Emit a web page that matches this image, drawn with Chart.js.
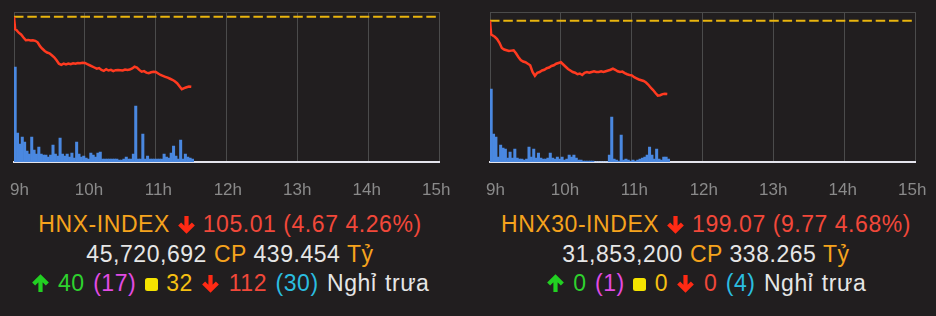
<!DOCTYPE html>
<html><head><meta charset="utf-8">
<script src="https://cdn.jsdelivr.net/npm/chart.js@4.4.1/dist/chart.umd.min.js"></script>
<style>
html,body{margin:0;padding:0;background:#211e1f;}
body{width:936px;height:316px;overflow:hidden;position:relative;font-family:"Liberation Sans",Arial,sans-serif;}
.panel{position:absolute;top:0;width:460px;height:316px;}
.cv{position:absolute;left:0;top:0;}
.ln{position:absolute;left:0;width:460px;text-align:center;white-space:nowrap;font-size:23px;letter-spacing:0.55px;line-height:30px;height:30px;color:#e6e6e6;}
.l3{word-spacing:1.5px;}
.o{color:#f6a31d}.r{color:#f2483a}.g{color:#2ed22e}.m{color:#e34be3}.y{color:#f6c012}.c{color:#2bbde0}
svg{display:inline-block;vertical-align:-2px}
</style></head>
<body>
<div class="panel" style="left:0">
  <canvas id="c1" class="cv" width="460" height="200"></canvas>
  <div class="ln" style="top:209px"><span class="o">HNX-INDEX</span> <svg width="19" height="19" viewBox="0 0 18 18"><path d="M9 1V15M2.5 8.5L9 15L15.5 8.5" fill="none" stroke="#ff2a14" stroke-width="4"/></svg> <span class="r">105.01 (4.67 4.26%)</span></div>
  <div class="ln" style="top:239px">45,720,692 <span class="o">CP</span> 439.454 <span class="o">Tỷ</span></div>
  <div class="ln l3" style="top:268px"><svg width="19" height="19" viewBox="0 0 18 18"><path d="M9 17V3M2.5 9.5L9 3L15.5 9.5" fill="none" stroke="#22d022" stroke-width="4"/></svg> <span class="g">40</span> <span class="m">(17)</span> <svg width="13" height="13" viewBox="0 0 13 13" style="vertical-align:0"><rect x="0" y="0" width="13" height="13" rx="2.5" fill="#f5e300"/></svg> <span class="y">32</span> <svg width="19" height="19" viewBox="0 0 18 18"><path d="M9 1V15M2.5 8.5L9 15L15.5 8.5" fill="none" stroke="#ff2a14" stroke-width="4"/></svg> <span class="r">112</span> <span class="c">(30)</span> Nghỉ trưa</div>
</div>
<div class="panel" style="left:476px">
  <canvas id="c2" class="cv" width="460" height="200"></canvas>
  <div class="ln" style="top:209px"><span class="o">HNX30-INDEX</span> <svg width="19" height="19" viewBox="0 0 18 18"><path d="M9 1V15M2.5 8.5L9 15L15.5 8.5" fill="none" stroke="#ff2a14" stroke-width="4"/></svg> <span class="r">199.07 (9.77 4.68%)</span></div>
  <div class="ln" style="top:239px">31,853,200 <span class="o">CP</span> 338.265 <span class="o">Tỷ</span></div>
  <div class="ln l3" style="top:268px"><svg width="19" height="19" viewBox="0 0 18 18"><path d="M9 17V3M2.5 9.5L9 3L15.5 9.5" fill="none" stroke="#22d022" stroke-width="4"/></svg> <span class="g">0</span> <span class="m">(1)</span> <svg width="13" height="13" viewBox="0 0 13 13" style="vertical-align:0"><rect x="0" y="0" width="13" height="13" rx="2.5" fill="#f5e300"/></svg> <span class="y">0</span> <svg width="19" height="19" viewBox="0 0 18 18"><path d="M9 1V15M2.5 8.5L9 15L15.5 8.5" fill="none" stroke="#ff2a14" stroke-width="4"/></svg> <span class="r">0</span> <span class="c">(4)</span> Nghỉ trưa</div>
</div>
<script>
// Hour ticks (minutes after 9:00) and their labels
const hourTicks = [0, 60, 120, 180, 240, 300, 360];
const hourLabels = ["9h", "10h", "11h", "12h", "13h", "14h", "15h"];

// Index line sample times (minutes after 9:00)
const lineMinutes = [0,1,2,4,6,8,10,12,14,16,18,20,22,24,26,28,30,32,34,36,38,40,42,44,46,48,50,52,54,56,58,60,62,64,66,68,70,72,74,76,78,80,82,84,86,88,90,92,94,96,98,100,102,104,106,108,110,112,114,116,118,120,122,124,126,128,130,132,134,136,138,140,142,144,146,148,150];

// HNX-INDEX values
const hnxValues = [109.68,108.85,108.80,108.62,108.50,108.30,108.12,108.14,108.10,108.12,108.08,107.98,107.72,107.55,107.40,107.30,107.25,107.12,106.98,106.78,106.55,106.48,106.56,106.50,106.56,106.52,106.58,106.55,106.60,106.58,106.62,106.60,106.52,106.45,106.38,106.30,106.22,106.26,106.14,106.08,106.18,106.10,106.14,106.06,106.12,106.14,106.12,106.10,106.16,106.14,106.16,106.24,106.35,106.30,106.14,106.02,106.06,105.96,105.92,105.98,106.02,106.00,105.90,105.80,105.74,105.68,105.62,105.55,105.48,105.38,105.25,105.05,104.85,104.92,104.98,105.03,105.01];
const hnxReference = 109.68;

// HNX30-INDEX values
const hnx30Values = [208.84,207.0,206.9,206.7,206.4,205.9,205.2,205.0,204.9,204.8,204.85,204.9,204.5,204.0,203.6,203.4,203.3,203.1,202.9,202.0,201.5,201.9,202.0,202.2,202.3,202.5,202.6,202.8,202.9,203.1,203.2,203.3,203.0,202.7,202.4,202.2,202.0,201.9,201.7,201.8,201.6,201.9,202.0,201.9,202.0,202.1,202.0,202.0,202.1,202.0,202.1,202.2,202.3,202.45,202.3,202.1,202.0,202.05,201.85,201.7,201.6,201.55,201.3,201.15,201.0,200.9,200.8,200.6,200.3,199.9,199.6,199.2,198.85,198.9,199.05,199.1,199.07];
const hnx30Reference = 208.84;

// Volume bar times (2-minute slots, midpoints in minutes after 9:00)
const barMinutes = [1,3,5,7,9,11,13,15,17,19,21,23,25,27,29,31,33,35,37,39,41,43,45,47,49,51,53,55,57,59,61,63,65,67,69,71,73,75,77,79,81,83,85,87,89,91,93,95,97,99,101,103,105,107,109,111,113,115,117,119,121,123,125,127,129,131,133,135,137,139,141,143,145,147,149,151];

// Volume per slot (relative units)
const hnxVolume = [95,29,18,25,20,11,8,25,12,8,15,8,7,7,5,7,17,8,6,24,8,6,8,5,9,4,20,8,5,6,4,3,9,7,5,9,10,3,3,3,3,3,3,3,2,2,3,5,3,3,8,56,3,3,28,3,6,3,3,3,3,3,3,8,5,4,9,16,6,3,22,3,8,5,4,3];
const hnx30Volume = [73,28,25,5,17,14,13,4,10,4,13,4,3,3,2,3,15,5,13,4,9,4,3,3,4,9,4,3,5,3,5,2,3,7,5,7,4,2,2,1,1,1,1,1,0,0,0,0,0,0,7,45,3,2,1,27,2,3,2,1,2,1,2,3,4,5,7,15,7,3,13,3,2,5,5,3];

function makeChart(id, values, reference, volume, yMin, yMax) {
  const labelMin = -4.75, labelMax = 362.85;
  new Chart(document.getElementById(id), {
    type: 'line',
    data: {
      datasets: [
        { type: 'line', data: lineMinutes.map((m, i) => ({ x: m, y: values[i] })),
          borderColor: '#ff3a20', borderWidth: 2.5, pointRadius: 0, tension: 0,
          xAxisID: 'x', yAxisID: 'y', order: 0 },
        { type: 'line', data: [{ x: 0, y: reference }, { x: 360, y: reference }],
          borderColor: '#e9b50e', borderWidth: 2, borderDash: [9.5, 3.8], pointRadius: 0,
          xAxisID: 'x', yAxisID: 'y', order: 1 },
        { type: 'bar', data: barMinutes.map((m, i) => ({ x: m, y: volume[i] })),
          backgroundColor: '#4a88e0', barPercentage: 1, categoryPercentage: 1,
          xAxisID: 'x', yAxisID: 'yv', order: 2 }
      ]
    },
    options: {
      responsive: false, animation: false, devicePixelRatio: 1,
      layout: { padding: { left: 14, right: 20.5, top: 12, bottom: 0 } },
      plugins: { legend: { display: false }, tooltip: { enabled: false } },
      scales: {
        x: { type: 'linear', position: 'bottom', min: 0, max: 360, offset: false,
             afterBuildTicks: s => { s.ticks = hourTicks.map(v => ({ value: v })); },
             afterFit: s => { s.height = 0; s.paddingLeft = 0; s.paddingRight = 0; },
             ticks: { display: false },
             grid: { color: '#4b4b4b', lineWidth: 1, drawTicks: false, offset: false },
             border: { display: true, color: '#e4e4ec', width: 2 } },
        xl: { type: 'linear', position: 'bottom', min: labelMin, max: labelMax, offset: false,
             afterBuildTicks: s => { s.ticks = hourTicks.map(v => ({ value: v })); },
             afterFit: s => { s.height = 38; s.paddingLeft = 0; s.paddingRight = 0; },
             grid: { display: false, drawTicks: false, offset: false }, border: { display: false },
             ticks: { color: '#8a8a8a', font: { family: 'Liberation Sans', size: 17 }, padding: 18,
                      maxRotation: 0, autoSkip: false, callback: (v, i) => hourLabels[i] } },
        y: { type: 'linear', position: 'left', min: yMin, max: yMax,
             afterBuildTicks: s => { s.ticks = [{ value: yMax }]; },
             afterFit: s => { s.width = 0; s.paddingTop = 0; s.paddingBottom = 0; },
             ticks: { display: false },
             grid: { color: '#4b4b4b', drawTicks: false }, border: { display: false } },
        yv: { type: 'linear', position: 'right', min: 0, max: 150, display: false }
      }
    }
  });
}
makeChart('c1', hnxValues, hnxReference, hnxVolume, 100, 110);
makeChart('c2', hnx30Values, hnx30Reference, hnx30Volume, 190, 210);
</script>
</body></html>
